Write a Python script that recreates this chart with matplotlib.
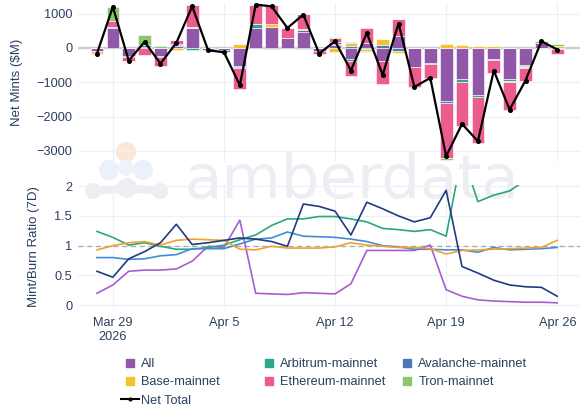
import matplotlib
matplotlib.use('Agg')
import matplotlib.pyplot as plt
from matplotlib.lines import Line2D
from matplotlib.patches import Circle
import numpy as np
import pandas as pd

# --- data ---
dates = pd.date_range('2026-03-28', '2026-04-26', freq='D')

chains = ['All', 'Arbitrum-mainnet', 'Avalanche-mainnet', 'Base-mainnet',
          'Ethereum-mainnet', 'Tron-mainnet']

all_mints = [-90, 590, -240, 0, -240, 50, 580, -50, -60, -520, 590, 620, 280, 470, -90,
             80, -330, 150, -390, 350, -560, -445, -1560, -910, -1360, -330, -910, -490, 135, -40]
arbitrum_mints = [0, 10, -15, 30, -15, 40, -50, 0, -60, -30, 100, -40, 0, -20, 0,
                  40, -50, -40, 0, 0, 10, 0, 0, -70, -70, -10, -40, -40, 0, 0]
avalanche_mints = [0, 0, -15, 40, 0, 30, 0, -20, 0, -40, 0, 0, 20, 60, 0,
                   40, 50, 0, 70, -80, 0, -20, -50, 0, 0, -10, 0, -30, 0, 0]
base_mints = [-60, 0, 10, 0, 0, -70, 30, 0, 0, 110, 0, 70, 0, 20, 0,
              -110, 90, -60, 190, -60, 0, 0, 115, 80, 60, 60, -40, -20, -10, 60]
ethereum_mints = [-15, 180, -110, -195, -260, 95, 650, 0, -10, -607, 570, 560, 280, 440, -75,
                  115, -445, 417, -656, 499, -586, -409, -1600, -1284, -1348, -370, -806, -370, 0, -129]
tron_mints = [0, 415, 0, 300, 60, 0, 0, 0, 0, 0, 0, 0, 0, 0, 0,
              30, 25, -30, 0, 0, 0, 0, -60, -30, 0, 0, 0, 0, 70, 60]

net_total = [-165, 1195, -370, 175, -456, 145, 1210, -70, -126, -1087, 1260, 1210, 580, 970, -165,
             195, -660, 437, -786, 709, -1136, -874, -3155, -2214, -2718, -660, -1796, -951, 194, -49]

ratio_all = [0.20, 0.34, 0.57, 0.59, 0.59, 0.61, 0.74, 0.99, 0.97, 1.43, 0.20, 0.19, 0.18, 0.21, 0.20,
             0.19, 0.36, 0.92, 0.92, 0.92, 0.92, 1.01, 0.26, 0.15, 0.09, 0.07, 0.06, 0.05, 0.05, 0.04]
ratio_arbitrum = [1.24, 1.14, 1.01, 1.05, 0.99, 0.94, 0.94, 0.97, 1.01, 1.10, 1.18, 1.34, 1.45, 1.45, 1.49,
                  1.49, 1.45, 1.40, 1.29, 1.27, 1.24, 1.27, 1.16, 2.55, 1.74, 1.85, 1.92, 2.10, 2.15, 2.20]
ratio_avalanche = [0.80, 0.80, 0.77, 0.78, 0.83, 0.85, 0.95, 0.95, 0.95, 1.03, 1.11, 1.13, 1.23, 1.16, 1.15,
                   1.14, 1.11, 1.07, 1.00, 0.98, 0.94, 0.94, 0.93, 0.93, 0.89, 0.97, 0.93, 0.94, 0.95, 0.97]
ratio_base = [0.93, 1.00, 1.05, 1.07, 1.01, 1.09, 1.11, 1.10, 1.09, 0.94, 0.93, 0.99, 0.96, 0.96, 0.96,
              0.98, 1.05, 1.01, 0.99, 0.97, 0.97, 0.95, 0.86, 0.92, 0.93, 0.94, 0.95, 0.96, 0.97, 1.09]
ratio_ethereum = [0.57, 0.47, 0.78, 0.90, 1.05, 1.36, 1.02, 1.05, 1.09, 1.13, 1.11, 1.07, 0.99, 1.70, 1.66,
                  1.58, 1.18, 1.73, 1.62, 1.50, 1.40, 1.47, 1.93, 0.65, 0.54, 0.42, 0.34, 0.31, 0.30, 0.15]

tick_dates = ['2026-03-29', '2026-04-05', '2026-04-12', '2026-04-19', '2026-04-26']
tick_labels = ['Mar 29\n2026', 'Apr 5', 'Apr 12', 'Apr 19', 'Apr 26']

# --- styling ---
bar_colors = ['#9157a8', '#2aa98a', '#4b78b8', '#f3c22c', '#ec5c8e', '#8cc66a']
ratio_colors = ['#a65ed2', '#2aa878', '#3f8dd8', '#f4a030', '#1f3c80']
text_color = '#2a3f5f'
grid_color = '#edf0f6'

plt.rcParams['font.family'] = ['Liberation Sans', 'DejaVu Sans']
plt.rcParams['font.size'] = 9.2

fig = plt.figure(figsize=(5.85, 4.12), dpi=100)

# watermark, drawn in pixel coords behind everything
bg = fig.add_axes([0, 0, 1, 1], zorder=-1)
bg.set_xlim(0, 585)
bg.set_ylim(412, 0)
bg.axis('off')
for cx, cy, r, c in [(126, 152, 10, '#fde6d8'), (109, 170, 10, '#eaf1fa'), (143, 170, 10, '#eaf1fa'),
                     (126, 168, 8, '#eef3fa'), (93, 191, 8, '#eceef2'), (127, 188, 10, '#eceef2'),
                     (160, 191, 8, '#eceef2')]:
    bg.add_patch(Circle((cx, cy), r, color=c, lw=0))
bg.plot([93, 127, 160], [191, 188, 191], color='#eceef2', lw=6, solid_capstyle='round')
bg.text(184, 198, 'amberdata', fontsize=44, color='#eceef3', family='DejaVu Sans',
        ha='left', va='baseline')

ax1 = fig.add_axes([0.133, 0.607, 0.858, 0.386])
ax2 = fig.add_axes([0.133, 0.252, 0.858, 0.299], sharex=ax1)

# stacked bars, positives up and negatives down
series = [all_mints, arbitrum_mints, avalanche_mints, base_mints, ethereum_mints, tron_mints]
pos_base = np.zeros(len(dates))
neg_base = np.zeros(len(dates))
for vals, color in zip(series, bar_colors):
    v = np.array(vals, dtype=float)
    bottom = np.where(v >= 0, pos_base, neg_base)
    ax1.bar(dates, v, bottom=bottom, width=0.8, color=color, edgecolor='white',
            linewidth=0.4, zorder=2)
    pos_base += np.where(v >= 0, v, 0)
    neg_base += np.where(v < 0, v, 0)
ax1.plot(dates, net_total, color='black', lw=1.6, marker='o', ms=2.6, zorder=4)
ax1.axhline(0, color='#c9cdd3', lw=1.6, zorder=1)

ax1.set_ylim(-3320, 1310)
ax1.set_yticks([1000, 0, -1000, -2000, -3000])
ax1.set_yticklabels(['1000', '0', '\u22121000', '\u22122000', '\u22123000'])
ax1.set_ylabel('Net Mints ($M)', color=text_color, fontsize=9.5)
ax1.yaxis.set_label_coords(-0.11, 0.5)
plt.setp(ax1.get_xticklabels(), visible=False)

# ratio lines
ratios = [ratio_all, ratio_arbitrum, ratio_avalanche, ratio_base, ratio_ethereum]
for vals, color in zip(ratios, ratio_colors):
    ax2.plot(dates, vals, color=color, lw=1.2, zorder=3)
ax2.axhline(1, color='#a8a8a8', lw=0.9, ls=(0, (4, 3)), zorder=2)
ax2.set_ylim(-0.05, 2.02)
ax2.set_yticks([0, 0.5, 1, 1.5, 2])
ax2.set_yticklabels(['0', '0.5', '1', '1.5', '2'])
ax2.set_ylabel('Mint/Burn Ratio (7D)', color=text_color, fontsize=9.5)
ax2.yaxis.set_label_coords(-0.076, 0.5)

ax2.set_xlim(pd.Timestamp('2026-03-26 19:00'), pd.Timestamp('2026-04-27 10:00'))
ax2.set_xticks(pd.to_datetime(tick_dates))
ax2.set_xticklabels(tick_labels, linespacing=1.3)

for ax in (ax1, ax2):
    ax.set_facecolor('none')
    for s in ax.spines.values():
        s.set_visible(False)
    ax.grid(True, color=grid_color, lw=0.9, zorder=0)
    ax.set_axisbelow(True)
    ax.tick_params(length=0, colors=text_color, labelsize=9.2, pad=4)
ax2.tick_params(axis='x', pad=6)

# legend, one column at a time so each sits where the reference has it
square = {name: Line2D([], [], marker='s', ls='none', ms=5.5, color=c)
          for name, c in zip(chains, bar_colors)}
net_handle = Line2D([], [], color='black', lw=1.5, marker='o', ms=2)
columns = [
    (121, [square['All'], square['Base-mainnet'], net_handle], ['All', 'Base-mainnet', 'Net Total']),
    (260, [square['Arbitrum-mainnet'], square['Ethereum-mainnet']], ['Arbitrum-mainnet', 'Ethereum-mainnet']),
    (398, [square['Avalanche-mainnet'], square['Tron-mainnet']], ['Avalanche-mainnet', 'Tron-mainnet']),
]
for x0, hs, labels in columns:
    fig.legend(hs, labels, loc='upper left', bbox_to_anchor=(x0 / 585, 1 - 358 / 412),
               frameon=False, handlelength=1.4, handletextpad=0.2, labelspacing=0.5,
               labelcolor=text_color, fontsize=9.2, borderaxespad=0, borderpad=0)

fig.savefig('out.png', dpi=100)
